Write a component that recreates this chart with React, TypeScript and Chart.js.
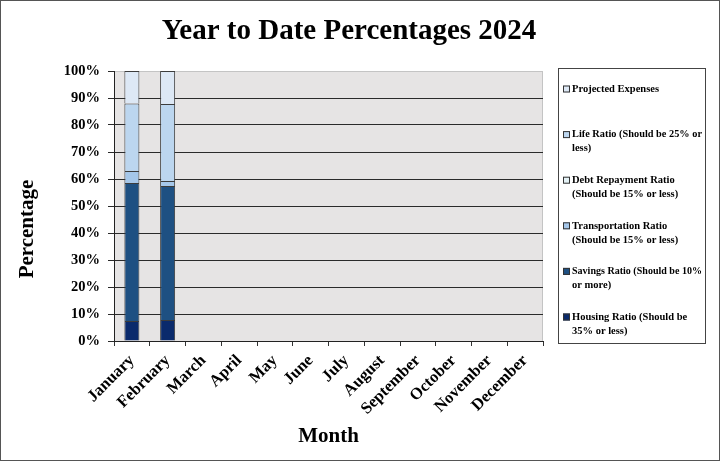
import React, { useEffect, useRef } from "react";
import { Chart, registerables } from "chart.js";

Chart.register(...registerables);

const months = [
  "January", "February", "March", "April", "May", "June",
  "July", "August", "September", "October", "November", "December",
];

const housing = [7.4, 7.8, 0, 0, 0, 0, 0, 0, 0, 0, 0, 0];
const savings = [51.1, 49.6, 0, 0, 0, 0, 0, 0, 0, 0, 0, 0];
const transportation = [4.5, 1.9, 0, 0, 0, 0, 0, 0, 0, 0, 0, 0];
const debtRepayment = [0, 0, 0, 0, 0, 0, 0, 0, 0, 0, 0, 0];
const life = [25.0, 28.5, 0, 0, 0, 0, 0, 0, 0, 0, 0, 0];
const projected = [12.0, 12.2, 0, 0, 0, 0, 0, 0, 0, 0, 0, 0];

const seriesLabels = [
  ["Housing Ratio (Should be", "35% or less)"],
  ["Savings Ratio (Should be 10%", "or more)"],
  ["Transportation Ratio", "(Should be 15% or less)"],
  ["Debt Repayment Ratio", "(Should be 15% or less)"],
  ["Life Ratio (Should be 25% or", "less)"],
  ["Projected Expenses"],
];
const seriesColors = ["#0a2a6c", "#1e5082", "#a5c7ea", "#e4f2f6", "#bcd6ef", "#dde8f5"];

const yTicks = [0, 10, 20, 30, 40, 50, 60, 70, 80, 90, 100];

const titleText = "Year to Date Percentages 2024";
const yTitleText = "Percentage";
const xTitleText = "Month";

const FONT = "'Liberation Serif', 'DejaVu Serif', serif";

const textPlugin = {
  id: "texts",
  afterDraw(chart: any) {
    const ctx = chart.ctx as CanvasRenderingContext2D;
    const area = chart.chartArea;
    ctx.save();
    ctx.fillStyle = "#000";
    ctx.textAlign = "center";
    ctx.textBaseline = "middle";
    ctx.font = "bold 29px " + FONT;
    ctx.fillText(titleText, 348, 31);
    ctx.translate(27, (area.top + area.bottom) / 2 + 23);
    ctx.rotate(-Math.PI / 2);
    ctx.font = "bold 21px " + FONT;
    ctx.fillText(yTitleText, 0, 0);
    ctx.restore();
  },
};

const legendPlugin = {
  id: "boxLegend",
  afterDraw(chart: any) {
    const ctx = chart.ctx as CanvasRenderingContext2D;
    const area = chart.chartArea;
    const x0 = area.right + 15;
    const y0 = area.top - 3;
    const w = 147;
    const h = area.bottom - area.top + 5;
    ctx.save();
    ctx.fillStyle = "#ffffff";
    ctx.fillRect(x0, y0, w, h);
    ctx.strokeStyle = "#444";
    ctx.lineWidth = 1;
    ctx.strokeRect(x0 + 0.5, y0 + 0.5, w, h);
    ctx.font = "bold 10.5px " + FONT;
    ctx.textBaseline = "middle";
    ctx.textAlign = "left";
    const ds = chart.data.datasets.slice().reverse();
    const step = 45.6;
    ds.forEach((d: any, i: number) => {
      const lines: string[] = Array.isArray(d.label) ? d.label : [String(d.label)];
      const firstY = y0 + 21 + i * step;
      const mx = x0 + 5;
      ctx.fillStyle = d.backgroundColor;
      ctx.fillRect(mx, firstY - 3.5, 7, 7);
      ctx.strokeStyle = "#333";
      ctx.strokeRect(mx + 0.5, firstY - 3.5 + 0.5, 6, 6);
      ctx.fillStyle = "#000";
      lines.forEach((ln, j) => {
        ctx.fillText(ln, x0 + 14, firstY + j * 14, w - 17);
      });
    });
    ctx.restore();
  },
};

const bgPlugin = {
  id: "plotBg",
  beforeDraw(chart: any) {
    const { ctx, chartArea } = chart;
    ctx.save();
    ctx.fillStyle = "#e6e4e4";
    ctx.fillRect(chartArea.left, chartArea.top, chartArea.right - chartArea.left, chartArea.bottom - chartArea.top);
    ctx.strokeStyle = "#c4c4c4";
    ctx.lineWidth = 1;
    ctx.strokeRect(chartArea.left + 0.5, chartArea.top + 0.5, chartArea.right - chartArea.left - 1, chartArea.bottom - chartArea.top);
    ctx.restore();
  },
};

export default function App() {
  const ref = useRef<HTMLCanvasElement>(null);
  useEffect(() => {
    document.body.style.margin = "0";
    const series = [housing, savings, transportation, debtRepayment, life, projected];
    const chart = new Chart(ref.current!, {
      type: "bar",
      data: {
        labels: months,
        datasets: series.map((s, i) => ({
          label: seriesLabels[i],
          data: s,
          backgroundColor: seriesColors[i],
          borderColor: "#3c3c3c",
          borderWidth: s.map((v) => (v > 0 ? 1 : 0)),
          categoryPercentage: 1,
          barPercentage: 0.42,
        })),
      },
      options: {
        animation: false,
        responsive: false,
        layout: { padding: { right: 176, left: 0, top: 70, bottom: 0 } },
        plugins: {
          legend: { display: false },
          tooltip: { enabled: false },
          title: { display: false },
        },
        scales: {
          x: {
            stacked: true,
            afterFit: (scale: any) => {
              scale.height = 119;
            },
            grid: {
              display: true,
              drawOnChartArea: false,
              drawTicks: true,
              tickLength: 5,
              color: "#333",
              offset: true,
            },
            border: { display: true, color: "#222" },
            ticks: {
              color: "#000",
              minRotation: 45,
              maxRotation: 45,
              padding: 5,
              font: { family: FONT, size: 16.5, weight: "bold" },
            },
            title: {
              display: true,
              text: xTitleText,
              color: "#000",
              font: { family: FONT, size: 21, weight: "bold" },
              padding: { top: 4, bottom: 11 },
            },
          },
          y: {
            stacked: true,
            min: 0,
            max: 100,
            afterFit: (scale: any) => {
              scale.width = 113;
            },
            afterBuildTicks: (scale: any) => {
              scale.ticks = yTicks.map((v) => ({ value: v }));
            },
            grid: {
              color: (c: any) => (c.tick && c.tick.value === 100 ? "#c4c4c4" : "#2a2a2a"),
              tickColor: "#2a2a2a",
              lineWidth: 1,
              tickLength: 6,
            },
            border: { display: true, color: "#222" },
            ticks: {
              color: "#000",
              padding: 8,
              font: { family: FONT, size: 14.5, weight: "bold" },
              callback: (v: any) => v + "%",
            },
            title: { display: false },
          },
        },
      },
      plugins: [bgPlugin, legendPlugin, textPlugin],
    } as any);
    return () => chart.destroy();
  }, []);
  return (
    <div
      style={{
        position: "absolute",
        left: 0,
        top: 0,
        width: 720,
        height: 461,
        boxSizing: "border-box",
        border: "1px solid #555",
        background: "#fff",
      }}
    >
      <canvas ref={ref} width={718} height={459} style={{ display: "block" }} />
    </div>
  );
}
